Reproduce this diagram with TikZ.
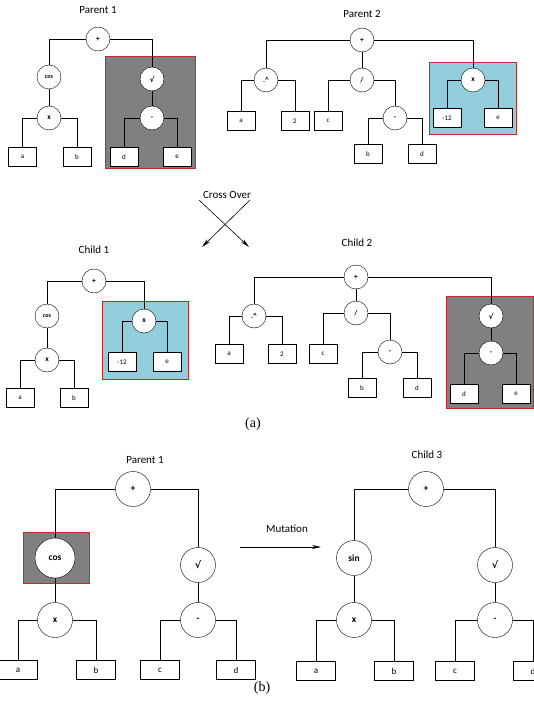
\documentclass[tikz,border=0pt]{standalone}
\usepackage{fontspec}
\setmainfont{Carlito}
\newfontfamily\capfont{Liberation Serif}
\newfontfamily\symfont{DejaVu Sans}
\usetikzlibrary{arrows.meta}
\definecolor{hlgray}{RGB}{128,128,128}
\definecolor{hlblue}{RGB}{146,205,220}
\definecolor{hlred}{RGB}{200,40,40}
\newcommand{\rootsym}{{\symfont\bfseries √}}
\tikzset{
  op/.style={
    circle,
    draw=black,
    fill=white,
    minimum size=24pt,
    inner sep=0pt,
    font=\fontsize{7.5}{8}\selectfont\bfseries
  },
  leaf/.style={
    draw=black,
    fill=white,
    minimum width=28pt,
    minimum height=19pt,
    inner sep=0pt,
    font=\fontsize{7}{8}\selectfont
  },
  bigop/.style={
    op,
    minimum size=35pt,
    font=\fontsize{9.5}{10}\selectfont\bfseries
  },
  bigleaf/.style={
    leaf,
    minimum width=39pt,
    font=\fontsize{9}{10}\selectfont
  },
  title/.style={font=\fontsize{11}{12}\selectfont},
  caption/.style={font=\capfont\fontsize{14}{15}\selectfont},
  hlbox/.style={draw=hlred, line width=1pt},
  link/.style={draw=black, line width=0.8pt},
  move/.style={-{Stealth[length=9pt,width=4pt]}, line width=0.6pt}
}
\begin{document}
\begin{tikzpicture}[x=1pt, y=-1pt]
  \useasboundingbox (0,0) rectangle (534,714);
  \clip (0,0) rectangle (534,714);

  % highlighted subtrees
  \filldraw[hlbox, fill=hlgray] (105,57) rectangle (195,169);
  \filldraw[hlbox, fill=hlblue] (429,63) rectangle (516,135);
  \filldraw[hlbox, fill=hlblue] (102,301) rectangle (188,379);
  \filldraw[hlbox, fill=hlgray] (446,296) rectangle (533,408);
  \filldraw[hlbox, fill=hlgray] (23,532) rectangle (89,583);

  % Parent 1
  \node[title] (tpa) at (98,10) {Parent 1};
  \node[op] (pa) at (98,39) {+};
  \node[op, font=\fontsize{6}{7}\selectfont\bfseries] (pacos) at (49,77) {cos};
  \node[op] (pax) at (49,118) {x};
  \node[leaf] (paa) at (22.5,157) {a};
  \node[leaf] (pab) at (77,157) {b};
  \node[op] (pasq) at (152,79) {\rootsym};
  \node[op] (pam) at (152,118) {-};
  \node[leaf] (pad) at (124,157) {d};
  \node[leaf] (pae) at (177,157) {e};
  \draw[link] (pa.west) -| (pacos.north);
  \draw[link] (pa.east) -| (pasq.north);
  \draw[link] (pacos) -- (pax);
  \draw[link] (pax.west) -| (paa.north);
  \draw[link] (pax.east) -| (pab.north);
  \draw[link] (pasq) -- (pam);
  \draw[link] (pam.west) -| (pad.north);
  \draw[link] (pam.east) -| (pae.north);

  % Parent 2
  \node[title] (tpb) at (362,14) {Parent 2};
  \node[op] (pb) at (362,40) {+};
  \node[op] (pbpow) at (266,80) {.\^{}};
  \node[leaf] (pba) at (241,121) {a};
  \node[leaf] (pbtwo) at (295,121) {2};
  \node[op] (pbdiv) at (362,80) {/};
  \node[leaf] (pbc) at (328,121) {c};
  \node[op] (pbm) at (395,118) {-};
  \node[leaf] (pbb) at (368,154) {b};
  \node[leaf] (pbd) at (422,154) {d};
  \node[op] (pbx) at (473,80) {x};
  \node[leaf] (pbn) at (447,118) {-12};
  \node[leaf] (pbe) at (498,118) {e};
  \draw[link] (pb.west) -| (pbpow.north);
  \draw[link] (pb) -- (pbdiv);
  \draw[link] (pb.east) -| (pbx.north);
  \draw[link] (pbpow.west) -| (pba.north);
  \draw[link] (pbpow.east) -| (pbtwo.north);
  \draw[link] (pbdiv.west) -| (pbc.north);
  \draw[link] (pbdiv.east) -| (pbm.north);
  \draw[link] (pbm.west) -| (pbb.north);
  \draw[link] (pbm.east) -| (pbd.north);
  \draw[link] (pbx.west) -| (pbn.north);
  \draw[link] (pbx.east) -| (pbe.north);

  % cross over
  \node[title] (cross) at (227,195) {Cross Over};
  \coordinate (crl) at (199,200);
  \coordinate (crr) at (250,200);
  \coordinate (cbl) at (202,247);
  \coordinate (cbr) at (249,247);
  \draw[move] (crr) -- (cbl);
  \draw[move] (crl) -- (cbr);

  % Child 1
  \node[title] (tca) at (94,250) {Child 1};
  \node[op] (ca) at (94,281) {+};
  \node[op, font=\fontsize{6}{7}\selectfont\bfseries] (cacos) at (47,316) {cos};
  \node[op] (cax) at (47,360) {x};
  \node[leaf] (caa) at (20,398) {a};
  \node[leaf] (cab) at (74,398) {b};
  \node[op] (cax2) at (144,321) {x};
  \node[leaf] (can) at (122,362) {-12};
  \node[leaf] (cae) at (167,362) {e};
  \draw[link] (ca.west) -| (cacos.north);
  \draw[link] (ca.east) -| (cax2.north);
  \draw[link] (cacos) -- (cax);
  \draw[link] (cax.west) -| (caa.north);
  \draw[link] (cax.east) -| (cab.north);
  \draw[link] (cax2.west) -| (can.north);
  \draw[link] (cax2.east) -| (cae.north);

  % Child 2
  \node[title] (tcb) at (357,243) {Child 2};
  \node[op] (cb) at (356,277) {+};
  \node[op] (cbpow) at (254,316) {.\^{}};
  \node[leaf] (cba) at (229,354) {a};
  \node[leaf] (cbtwo) at (282,354) {2};
  \node[op] (cbdiv) at (356,313) {/};
  \node[leaf] (cbc) at (323,354) {c};
  \node[op] (cbm) at (390,352) {-};
  \node[leaf] (cbb) at (362,388) {b};
  \node[leaf] (cbd) at (417,388) {d};
  \node[op] (cbsq) at (491,316) {\rootsym};
  \node[op] (cbm2) at (491,353) {-};
  \node[leaf] (cbd2) at (464,394) {d};
  \node[leaf] (cbe) at (516,394) {e};
  \draw[link] (cb.west) -| (cbpow.north);
  \draw[link] (cb) -- (cbdiv);
  \draw[link] (cb.east) -| (cbsq.north);
  \draw[link] (cbpow.west) -| (cba.north);
  \draw[link] (cbpow.east) -| (cbtwo.north);
  \draw[link] (cbdiv.west) -| (cbc.north);
  \draw[link] (cbdiv.east) -| (cbm.north);
  \draw[link] (cbm.west) -| (cbb.north);
  \draw[link] (cbm.east) -| (cbd.north);
  \draw[link] (cbsq) -- (cbm2);
  \draw[link] (cbm2.west) -| (cbd2.north);
  \draw[link] (cbm2.east) -| (cbe.north);

  \node[caption] (capa) at (253,424) {(a)};

  % Parent 1, mutation
  \node[title] (tpc) at (145,460) {Parent 1};
  \node[bigop] (pc) at (133,489) {+};
  \node[bigop, minimum size=40pt] (pccos) at (55,558) {cos};
  \node[bigop] (pcx) at (55,620) {x};
  \node[bigleaf] (pca) at (18,670) {a};
  \node[bigleaf] (pcb) at (96,670) {b};
  \node[bigop] (pcsq) at (198,565) {\rootsym};
  \node[bigop] (pcm) at (198,620) {-};
  \node[bigleaf] (pcc) at (160,670) {c};
  \node[bigleaf] (pcd) at (236,670) {d};
  \draw[link] (pc.west) -| (pccos.north);
  \draw[link] (pc.east) -| (pcsq.north);
  \draw[link] (pccos) -- (pcx);
  \draw[link] (pcx.west) -| (pca.north);
  \draw[link] (pcx.east) -| (pcb.north);
  \draw[link] (pcsq) -- (pcm);
  \draw[link] (pcm.west) -| (pcc.north);
  \draw[link] (pcm.east) -| (pcd.north);

  \node[title] (mut) at (287,529) {Mutation};
  \coordinate (mfrom) at (240,547);
  \coordinate (mto) at (321,547);
  \draw[move] (mfrom) -- (mto);

  % Child 3
  \node[title] (tcc) at (427,455) {Child 3};
  \node[bigop] (cc) at (426,489) {+};
  \node[bigop] (ccsin) at (354,558) {sin};
  \node[bigop] (ccx) at (354,620) {x};
  \node[bigleaf] (cca) at (316,671) {a};
  \node[bigleaf] (ccb) at (394,671) {b};
  \node[bigop] (ccsq) at (495,565) {\rootsym};
  \node[bigop] (ccm) at (495,620) {-};
  \node[bigleaf] (ccc) at (455,671) {c};
  \node[bigleaf] (ccd) at (533,671) {d};
  \draw[link] (cc.west) -| (ccsin.north);
  \draw[link] (cc.east) -| (ccsq.north);
  \draw[link] (ccsin) -- (ccx);
  \draw[link] (ccx.west) -| (cca.north);
  \draw[link] (ccx.east) -| (ccb.north);
  \draw[link] (ccsq) -- (ccm);
  \draw[link] (ccm.west) -| (ccc.north);
  \draw[link] (ccm.east) -| (ccd.north);

  \node[caption] (capb) at (262,688) {(b)};
\end{tikzpicture}
\end{document}
